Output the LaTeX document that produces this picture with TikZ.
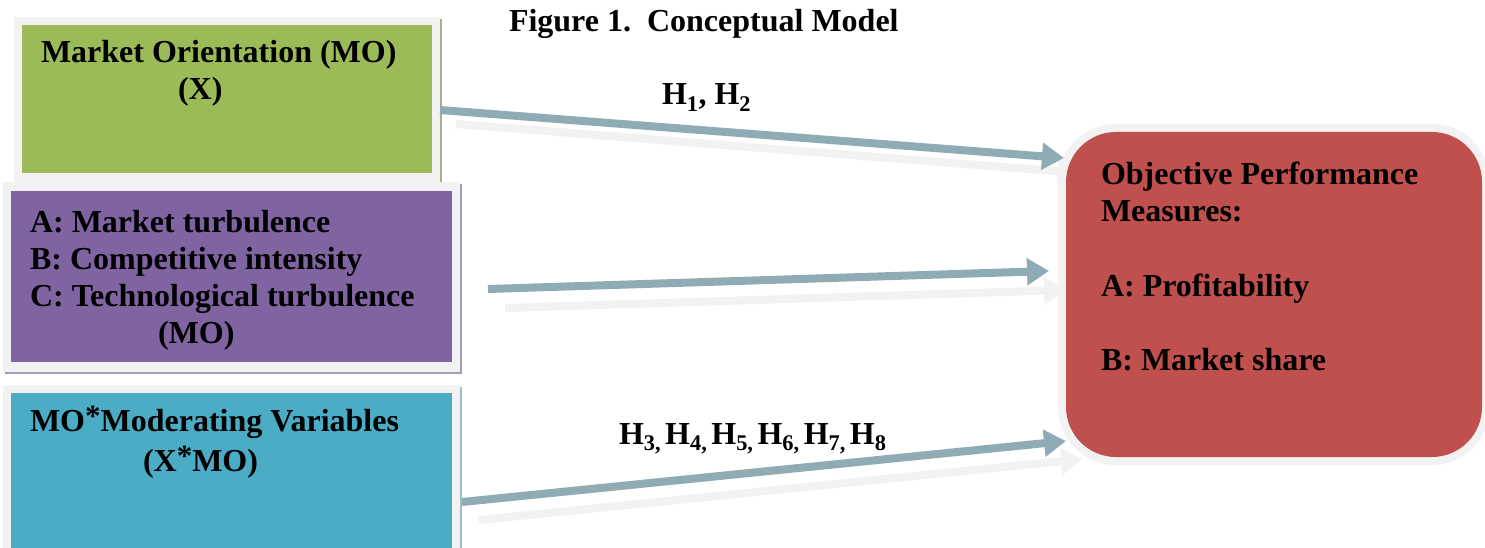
\documentclass[tikz,border=0pt]{standalone}
\usepackage{fontspec}
\setmainfont{Liberation Serif}
\usetikzlibrary{arrows.meta}
\definecolor{framegray}{HTML}{F2F2F2}
\definecolor{mogreen}{HTML}{9BBB59}
\definecolor{mopurple}{HTML}{8064A2}
\definecolor{mocyan}{HTML}{4BACC6}
\definecolor{perfred}{HTML}{C0504D}
\definecolor{arrowblue}{HTML}{8FABB3}
\definecolor{greenshadow}{HTML}{A7B08C}
\definecolor{purpleshadow}{HTML}{A39DB5}
\definecolor{cyanshadow}{HTML}{9DBCC5}
\newcommand{\hsp}{\hspace{4pt}}
\newcommand{\myast}{\raisebox{5pt}{\fontsize{31}{31}\selectfont *}}
\begin{document}
\begin{tikzpicture}[x=1pt,y=-1pt,
  txt/.style={anchor=base west, inner sep=0pt, outer sep=0pt, font=\fontsize{32}{37}\selectfont\bfseries},
  boxnode/.style={rectangle, draw=none, inner sep=0pt, outer sep=0pt, anchor=north west},
  conn/.style={line width=8pt, draw=arrowblue, -{Triangle[length=22pt,width=26pt]}},
  connshadow/.style={line width=8pt, draw=framegray, -{Triangle[length=22pt,width=26pt]}}]
\useasboundingbox (0,0) rectangle (1485,548);
\fill[white] (0,0) rectangle (1485,548);

% ---- green box
\fill[greenshadow] (16,19) rectangle (442,184);
\fill[framegray] (14,17) rectangle (440,182);
\node[boxnode, fill=mogreen, minimum width=410pt, minimum height=148pt] (mo) at (22,25) {};

% ---- purple box
\fill[purpleshadow] (5,184) rectangle (462,374);
\fill[framegray] (3,182) rectangle (460,372);
\node[boxnode, fill=mopurple, minimum width=441pt, minimum height=171pt] (mod) at (11,191) {};

% ---- cyan box
\fill[cyanshadow] (5,387) rectangle (462,560);
\fill[framegray] (3,385) rectangle (460,560);
\node[boxnode, fill=mocyan, minimum width=441pt, minimum height=170pt] (inter) at (11,393) {};

% ---- arrow coordinates
\coordinate (a1s) at (440,110);  \coordinate (a1e) at (1064,158);
\coordinate (a2s) at (488,289);  \coordinate (a2e) at (1049,271);
\coordinate (a3s) at (462,502);  \coordinate (a3e) at (1066,441);
\coordinate (b1s) at (456,124);  \coordinate (b1e) at (1080,173);
\coordinate (b2s) at (505,308);  \coordinate (b2e) at (1066,290);
\coordinate (b3s) at (479,520);  \coordinate (b3e) at (1083,459);

% ---- arrow shadows
\draw[connshadow] (b1s) -- (b1e);
\draw[connshadow] (b2s) -- (b2e);
\draw[connshadow] (b3s) -- (b3e);

% ---- red rounded box
\fill[framegray, rounded corners=58pt] (1058,124) rectangle (1490,465);
\node[boxnode, fill=perfred, rounded corners=50pt, minimum width=416pt, minimum height=325pt] (perf) at (1066,132) {};

% ---- main arrows
\draw[conn] (a1s) -- (a1e);
\draw[conn] (a2s) -- (a2e);
\draw[conn] (a3s) -- (a3e);

% ---- texts
\node[txt] (title) at (509,32) {Figure 1.\ \ Conceptual Model};
\node[txt] (h12) at (662,105) {H\textsubscript{1}, H\textsubscript{2}};
\node[txt] (h38) at (619,444) {H\textsubscript{3,}\hsp H\textsubscript{4,}\hsp H\textsubscript{5,}\hsp H\textsubscript{6,}\hsp H\textsubscript{7,}\hsp H\textsubscript{8}};

\node[txt] (mo1) at (41,63) {Market Orientation (MO)};
\node[txt] (mo2) at (178,100) {(X)};

\node[txt] (md1) at (30,232) {A: Market turbulence};
\node[txt] (md2) at (30,269) {B: Competitive intensity};
\node[txt] (md3) at (30,306) {C: Technological turbulence};
\node[txt] (md4) at (158,343) {(MO)};

\node[txt] (in1) at (30,431) {MO\myast Moderating Variables};
\node[txt] (in2) at (143,471) {(X\myast MO)};

\node[txt] (pf1) at (1101,185) {Objective Performance};
\node[txt] (pf2) at (1101,222) {Measures:};
\node[txt] (pf3) at (1101,296) {A: Profitability};
\node[txt] (pf4) at (1101,370) {B: Market share};
\end{tikzpicture}
\end{document}
